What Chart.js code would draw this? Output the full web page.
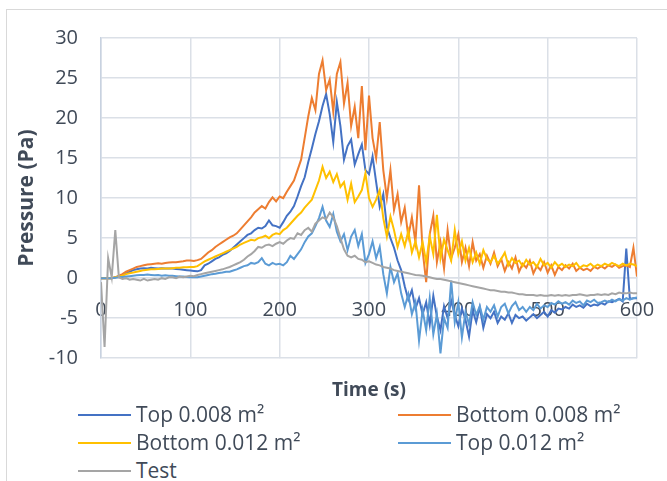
<!DOCTYPE html>
<html>
<head>
    <title>Pressure vs time</title>
    <style>
        body {
            margin: 0;
            padding: 0;
            background: #ffffff;
            font-family: 'Open Sans', sans-serif;
            color: #404a58;
            overflow: hidden;
        }
        .frame {
            position: absolute;
            left: 6px;
            top: 9px;
            width: 700px;
            height: 500px;
            border-left: 1px solid #d9d9d9;
            border-top: 1px solid #d9d9d9;
        }
        #chart {
            position: absolute;
            left: 0;
            top: 0;
        }
        .legend {
            position: absolute;
            left: 0;
            top: 0;
            font-size: 21px;
        }
        .legend .item {
            position: absolute;
            white-space: nowrap;
            line-height: 28px;
        }
        .legend .swatch {
            display: inline-block;
            width: 53px;
            height: 2px;
            vertical-align: middle;
            margin-right: 5px;
            margin-top: -3px;
        }
    </style>
    <script src="https://cdn.jsdelivr.net/npm/chart.js"></script>
</head>
<body>
    <div class="frame"></div>
    <canvas id="chart" width="667" height="403"></canvas>
    <div class="legend" id="legend"></div>
    <script>
        // time (s)
        const times = [
            0, 4, 8, 12, 16, 20, 24, 28, 32, 36,
            40, 44, 48, 52, 56, 60, 64, 68, 72, 76,
            80, 84, 88, 92, 96, 100, 104, 108, 112, 116,
            120, 124, 128, 132, 136, 140, 144, 148, 152, 156,
            160, 164, 168, 172, 176, 180, 184, 188, 192, 196,
            200, 204, 208, 212, 216, 220, 224, 228, 232, 236,
            240, 244, 248, 252, 256, 260, 264, 268, 272, 276,
            280, 284, 288, 292, 296, 300, 304, 308, 312, 316,
            320, 324, 328, 332, 336, 340, 344, 348, 352, 356,
            360, 364, 368, 372, 376, 380, 384, 388, 392, 396,
            400, 404, 408, 412, 416, 420, 424, 428, 432, 436,
            440, 444, 448, 452, 456, 460, 464, 468, 472, 476,
            480, 484, 488, 492, 496, 500, 504, 508, 512, 516,
            520, 524, 528, 532, 536, 540, 544, 548, 552, 556,
            560, 564, 568, 572, 576, 580, 584, 588, 592, 596,
            600
        ];

        // pressure (Pa)
        const top008 = [
            0, 0, 0, 0, 0.1, 0.2, 0.4, 0.6, 0.8, 1.0,
            1.1, 1.2, 1.25, 1.2, 1.3, 1.25, 1.2, 1.25, 1.2, 1.2,
            1.2, 1.15, 1.1, 1.05, 1.0, 0.95, 0.9, 0.85, 1.0, 1.6,
            1.8, 2.1, 2.4, 2.6, 2.9, 3.1, 3.4, 3.8, 4.2, 4.6,
            5.0, 5.4, 5.6, 6.0, 6.3, 6.2, 6.5, 7.2, 6.6, 6.5,
            6.3, 7.0, 7.8, 8.3, 9.0, 10.2, 11.5, 12.6, 14.5, 16.2,
            18.0, 19.6, 21.5, 23.0, 20.5, 17.0, 22.0, 19.0, 14.8, 16.5,
            17.3, 14.2, 15.5, 16.7, 13.5, 13.0, 15.2, 12.0, 8.9, 10.5,
            6.4, 5.0, 3.8, 2.2, 1.0, -1.0, -2.7, -1.5, -3.8, -2.5,
            -4.5, -3.0, -5.8, -2.2, -4.8, -6.5, -3.5, -5.0, -2.8, -4.6,
            -6.0, -3.8, -5.2, -7.3, -4.0, -5.5, -3.6, -6.2, -4.5, -5.0,
            -4.2, -5.6, -4.8, -5.2, -4.4, -5.6, -4.6, -5.0, -4.8, -5.3,
            -4.9, -4.5, -5.0, -4.6, -4.2, -4.8, -4.0, -4.3, -3.8, -3.9,
            -3.6, -3.8, -3.3, -3.6, -3.4, -3.7, -3.2, -3.5, -3.3, -3.4,
            -3.1, -3.3, -2.9, -3.0, -2.8, -2.6, -2.9, 3.7, -2.6, -2.5,
            -2.5
        ];
        const bottom008 = [
            0, 0, 0, 0, 0.1, 0.3, 0.5, 0.8, 1.0, 1.2,
            1.4, 1.5, 1.6, 1.7, 1.75, 1.8, 1.85, 1.8, 1.9, 1.95,
            2.0, 2.0, 2.05, 2.1, 2.2, 2.2, 2.15, 2.25, 2.4, 2.8,
            3.2, 3.5, 3.9, 4.2, 4.5, 4.8, 5.1, 5.3, 5.6, 6.1,
            6.6, 7.1, 7.6, 8.2, 8.6, 9.0, 8.7, 9.5, 10.1, 9.6,
            10.2, 10.0, 10.8, 11.5, 12.2, 13.5, 14.8, 17.5, 20.2, 22.5,
            21.0, 25.5, 27.2, 23.5, 24.8, 20.8, 25.5, 27.0, 21.8, 24.4,
            19.0, 21.4, 17.5, 24.0, 16.0, 22.8, 17.5, 15.0, 19.5, 13.5,
            10.0, 13.5, 8.5, 10.5, 7.0, 8.8, 5.2, 7.6, 4.5, 11.6,
            3.5, -0.5, 5.5, 7.8, 2.0, 4.5, 1.2, 6.0, 2.5, 3.8,
            5.5, 2.0, 3.8, 1.5, 4.5, 2.2, 3.0, 1.3, 2.8, 1.8,
            3.2, 1.5, 2.4, 0.9, 2.0, 1.2, 2.6, 0.8, 1.8, 1.3,
            2.2, 0.6, 1.5, 1.0, 2.0, 0.7, 1.6, 0.4, 1.4, 1.0,
            1.6, 1.2, 1.8, 0.9, 1.3, 1.0, 1.2, 0.9, 1.4, 1.2,
            1.5, 1.2, 1.6, 1.4, 1.7, 1.3, 1.5, 1.6, 1.4, 3.8,
            0.2
        ];
        const bottom012 = [
            0, 0, 0, 0, 0.1, 0.2, 0.3, 0.5, 0.6, 0.7,
            0.8, 0.9, 1.0, 1.05, 1.1, 1.1, 1.15, 1.2, 1.2, 1.2,
            1.25, 1.3, 1.3, 1.35, 1.35, 1.4, 1.4, 1.5, 1.8, 2.1,
            2.3, 2.5, 2.7, 2.9, 3.1, 3.3, 3.5, 3.7, 3.9, 4.2,
            4.4, 4.6, 4.8, 4.7, 5.0, 5.1, 5.3, 5.0, 5.4, 5.6,
            5.5, 6.0, 6.3, 6.8, 7.3, 7.8, 8.2, 8.8, 9.3, 9.8,
            11.0, 12.2, 13.9, 12.5, 13.3, 12.0, 13.0, 11.4, 12.0, 9.8,
            11.8, 9.5, 10.2, 11.0, 13.1, 10.0, 8.9, 9.8, 11.0, 7.5,
            5.2, 7.7, 6.0, 3.9, 5.5, 4.0, 5.9, 3.2, 4.6, 2.6,
            4.5, 2.0, 5.2, 3.0, 7.9, 2.5, 4.8, 3.5, 2.2, 6.0,
            3.0, 4.6, 2.2, 3.8, 2.0, 3.2, 1.8, 3.5, 2.4, 2.0,
            2.8, 1.8, 2.4, 3.2, 1.6, 2.5, 1.9, 2.2, 1.5, 2.3,
            1.7, 2.0, 1.4, 2.4, 1.6, 1.9, 1.3, 2.0, 1.5, 1.8,
            1.4, 1.7, 1.5, 1.9, 1.3, 1.6, 1.5, 1.8, 1.4, 1.7,
            1.5, 1.8, 1.6, 1.9, 1.7, 1.5, 1.8, 1.6, 1.8, 1.7,
            1.5
        ];
        const top012 = [
            0, 0, 0, 0, 0.05, 0.1, 0.15, 0.2, 0.25, 0.3,
            0.35, 0.4, 0.4, 0.45, 0.4, 0.35, 0.4, 0.3, 0.35, 0.3,
            0.3, 0.25, 0.2, 0.2, 0.15, 0.1, 0.1, 0.1, 0.2, 0.3,
            0.4, 0.5, 0.55, 0.65, 0.7, 0.8, 0.8, 0.95, 1.1, 1.3,
            1.5, 1.6, 1.9, 1.8, 2.0, 2.5, 1.8, 1.6, 1.9, 1.7,
            1.8, 1.6, 2.0, 2.8, 2.4, 3.0, 3.6, 4.5, 5.2, 5.6,
            6.5, 7.5, 8.9, 7.2, 6.4, 8.0, 5.8, 4.6, 5.5, 3.5,
            5.2, 6.0, 4.0, 5.5, 1.9, 3.0, 4.6, 2.5, 3.9, 0.5,
            -1.9, 1.4, -0.5, 0.6, -1.9, -3.6, -2.0, -4.5, -3.0, -7.8,
            -4.0, -6.5, -2.5, -7.0, -4.5, -9.4, -5.0, -6.2, -0.3, -5.5,
            -3.0, -7.4, -4.2, -5.8, -3.0, -4.6, -3.5, -5.2, -3.6, -4.2,
            -3.4, -4.8, -3.6, -3.2, -4.4, -3.5, -3.0, -4.0, -3.6, -4.2,
            -3.6, -4.0, -3.2, -3.8, -3.4, -3.6, -3.1, -3.3, -2.9, -3.2,
            -3.0, -3.3, -2.8, -3.1, -2.9, -3.4, -2.8, -3.0, -2.7, -3.1,
            -3.0, -2.8, -3.0, -2.7, -2.9, -2.6, -2.8, -2.5, -2.7, -2.5,
            -2.4
        ];
        const test = [
            -0.5, -8.6, 2.5, 0.1, 6.0, 0.1, -0.1, 0.0, -0.2, -0.1,
            -0.2, -0.3, -0.1, -0.3, -0.2, -0.1, -0.2, 0.0, -0.1, 0.1,
            0.1, 0.0, 0.2, 0.1, 0.2, 0.3, 0.25, 0.4, 0.5, 0.6,
            0.7, 0.8, 0.9, 1.0, 1.1, 1.25, 1.4, 1.6, 1.8, 2.0,
            2.3, 2.7, 3.0, 3.4, 3.9, 3.8, 4.1, 4.2, 4.0, 4.3,
            4.5, 4.3, 4.7, 5.0, 4.9, 5.6, 5.4, 6.0, 6.3, 5.8,
            6.8, 7.2, 7.6, 7.4, 8.2, 7.6, 6.5, 5.0, 3.6, 2.8,
            2.6, 2.8, 2.4, 2.3, 2.0, 2.1, 1.9, 1.7, 1.6, 1.4,
            1.3, 1.2, 1.0, 0.9, 0.8, 0.7, 0.6, 0.5, 0.4, 0.35,
            0.3, 0.2, 0.1, 0.0, -0.1, -0.1, -0.2, -0.3, -0.4, -0.5,
            -0.6, -0.7, -0.8, -0.9, -1.0, -1.1, -1.2, -1.3, -1.4, -1.5,
            -1.5, -1.6, -1.7, -1.7, -1.8, -1.8, -1.9, -2.0, -2.0, -2.1,
            -2.1, -2.1, -2.2, -2.1, -2.2, -2.2, -2.1, -2.2, -2.1, -2.2,
            -2.1, -2.2, -2.1, -2.1, -2.0, -2.1, -2.2, -2.1, -2.1, -2.0,
            -2.1, -2.0, -2.1, -1.9, -2.0, -1.8, -1.9, -1.9, -1.8, -1.9,
            -1.9
        ];

        const seriesNames = ['Top 0.008 m²', 'Bottom 0.008 m²', 'Bottom 0.012 m²', 'Top 0.012 m²', 'Test'];
        const seriesValues = [top008, bottom008, bottom012, top012, test];
        const seriesColors = ['#4472C4', '#ED7D31', '#FFC000', '#5B9BD5', '#A5A5A5'];

        const textColor = '#404a58';
        const gridColor = '#dbe0e7';

        const datasets = seriesNames.map((name, i) => ({
            label: name,
            data: times.map((t, j) => ({ x: t, y: seriesValues[i][j] })),
            borderColor: seriesColors[i],
            backgroundColor: seriesColors[i],
            borderWidth: 2,
            pointRadius: 0,
            tension: 0,
            fill: false,
            order: seriesNames.length - i   // later series drawn on top, like Excel
        }));

        new Chart(document.getElementById('chart'), {
            type: 'line',
            data: { datasets: datasets },
            options: {
                responsive: false,
                animation: false,
                devicePixelRatio: 1,
                layout: {
                    padding: { left: 8, top: 38, right: 30, bottom: 0 }
                },
                plugins: {
                    legend: { display: false },
                    tooltip: { enabled: false },
                    title: {
                        display: true,
                        position: 'bottom',
                        fullSize: false,
                        text: 'Time (s)',
                        color: textColor,
                        font: { family: 'Open Sans', size: 19, weight: 'bold' },
                        padding: { top: 21, bottom: 1 }
                    }
                },
                scales: {
                    x: {
                        type: 'linear',
                        position: { y: 0 },
                        min: 0,
                        max: 600,
                        // labels sit below the 0 line, they should not shrink the plot
                        afterFit: function (scale) { scale.paddingLeft = 0; scale.paddingRight = 0; },
                        ticks: {
                            stepSize: 100,
                            padding: 20,
                            color: textColor,
                            font: { family: 'Open Sans', size: 20 }
                        },
                        grid: { color: gridColor, lineWidth: 1.5, drawTicks: false },
                        border: { color: gridColor, width: 1.5 }
                    },
                    y: {
                        min: -10,
                        max: 30,
                        afterFit: function (scale) { scale.width = 93; },
                        ticks: {
                            stepSize: 5,
                            padding: 23,
                            color: textColor,
                            font: { family: 'Open Sans', size: 20 }
                        },
                        grid: { color: gridColor, lineWidth: 1.5, drawTicks: false },
                        border: { color: '#c8d2e0', width: 1.5 },
                        title: {
                            display: true,
                            text: 'Pressure (Pa)',
                            color: textColor,
                            font: { family: 'Open Sans', size: 21, weight: 'bold' },
                            padding: { top: 6, bottom: 0 }
                        }
                    }
                }
            }
        });

        // legend in two columns, like the Excel one
        const legendPos = [[78, 400], [398, 400], [78, 428], [398, 428], [78, 456]];
        const legend = document.getElementById('legend');
        seriesNames.forEach((name, i) => {
            const item = document.createElement('div');
            item.className = 'item';
            item.style.left = legendPos[i][0] + 'px';
            item.style.top = legendPos[i][1] + 'px';
            item.innerHTML = '<span class="swatch" style="background:' + seriesColors[i] + '"></span>' + name;
            legend.appendChild(item);
        });
    </script>
</body>
</html>
